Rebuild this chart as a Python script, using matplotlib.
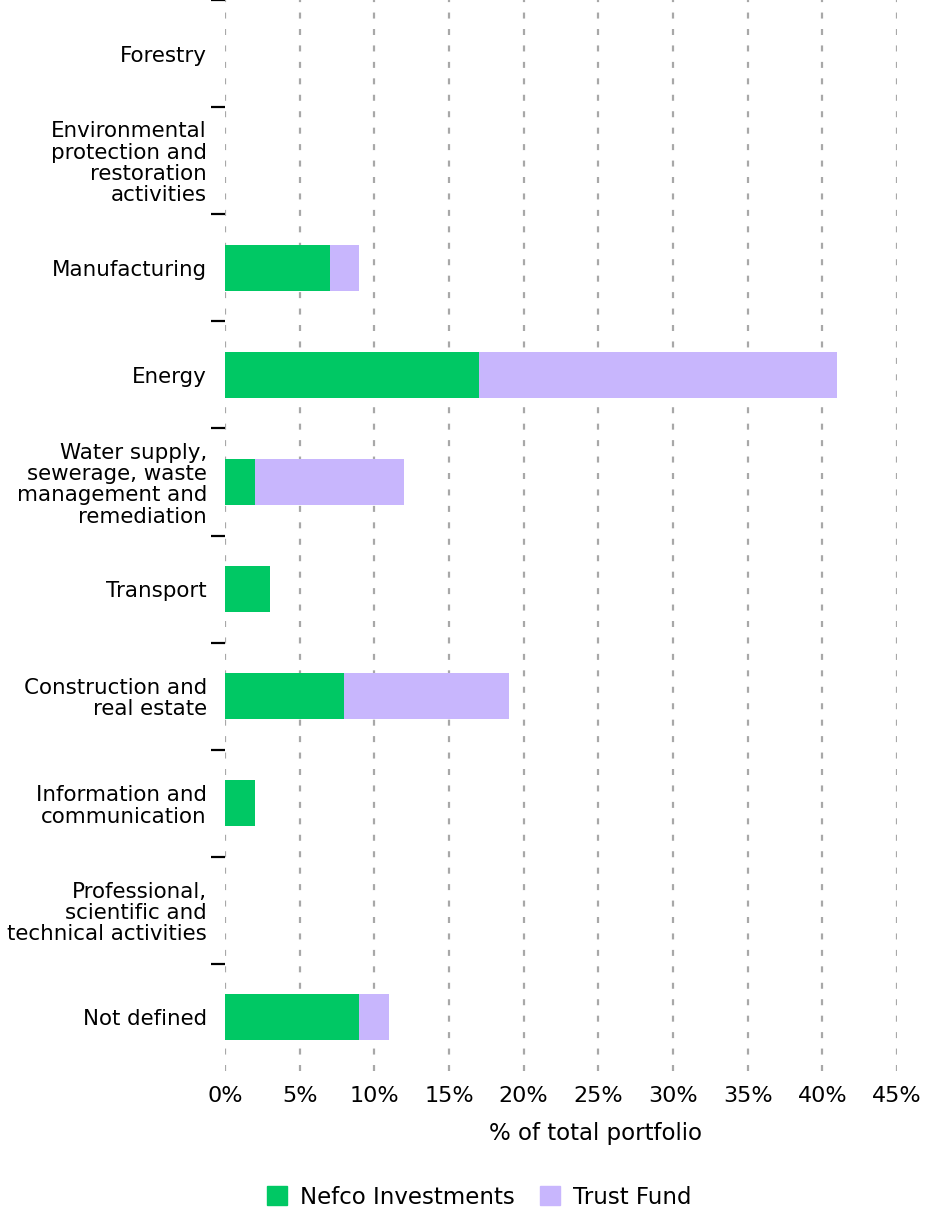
import numpy as np
import matplotlib.pyplot as plt
from matplotlib.patches import Patch

plt.rcParams["font.family"] = ["DejaVu Sans"]

# Portfolio share by sector (% of total portfolio)
sectors = [
    "Forestry",
    "Environmental\nprotection and\nrestoration\nactivities",
    "Manufacturing",
    "Energy",
    "Water supply,\nsewerage, waste\nmanagement and\nremediation",
    "Transport",
    "Construction and\nreal estate",
    "Information and\ncommunication",
    "Professional,\nscientific and\ntechnical activities",
    "Not defined",
]
nefco = [0, 0, 7, 17, 2, 3, 8, 2, 0, 9]
trust_fund = [0, 0, 2, 24, 10, 0, 11, 0, 0, 2]
xticks = [0, 5, 10, 15, 20, 25, 30, 35, 40, 45]

green = "#00C864"
purple = "#C8B6FD"

fig = plt.figure(figsize=(9.25, 12.14), dpi=100)
ax = fig.add_axes([225 / 925, 1 - 1071 / 1214, 672 / 925, 1071 / 1214])

y = np.arange(len(sectors))
ax.barh(y, nefco, height=0.43, color=green, zorder=3)
ax.barh(y, trust_fund, left=nefco, height=0.43, color=purple, zorder=3)

ax.set_xlim(0, 45)
ax.set_ylim(len(sectors) - 0.5, -0.5)

# dashed vertical gridlines, including the one at 0%
for xv in xticks:
    ax.axvline(xv, color="#A8A8A8", lw=1.6, linestyle=(0, (2.7, 4.7)), zorder=1)

for s in ax.spines.values():
    s.set_visible(False)

ax.set_xticks(xticks)
ax.set_xticklabels([f"{v}%" for v in xticks])
ax.tick_params(axis="x", length=0, pad=11, labelsize=16)

ax.set_yticks(y)
ax.set_yticklabels(sectors, fontsize=15.4, linespacing=1.08)
ax.tick_params(axis="y", which="major", length=0, pad=13)
ax.set_yticks(np.arange(len(sectors)) - 0.5, minor=True)
ax.tick_params(axis="y", which="minor", length=10, width=1.6, color="black")

ax.set_xlabel("% of total portfolio", fontsize=16.5)
ax.xaxis.set_label_coords((595 - 225) / 672, -(1122 - 1071) / 1071)

handles = [Patch(color=green, label="Nefco Investments"),
           Patch(color=purple, label="Trust Fund")]
fig.legend(handles=handles, loc="center", bbox_to_anchor=(479 / 925, 1 - 1197 / 1214),
           ncol=2, frameon=False, fontsize=16.5, handlelength=0.9, handleheight=0.9,
           handletextpad=0.55, columnspacing=1.1)

fig.savefig("out.png", dpi=100)
